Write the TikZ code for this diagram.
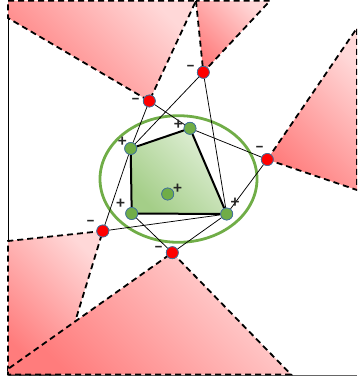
\documentclass[tikz,border=0pt]{standalone}
\usepackage{fontspec}
\setmainfont{Carlito}
\definecolor{redlight}{HTML}{FFD8D8}
\definecolor{reddark}{HTML}{FF7C7C}
\definecolor{grnlight}{HTML}{E2F0D9}
\definecolor{grndark}{HTML}{A4CE88}
\definecolor{grnline}{HTML}{70AD47}
\definecolor{ptedge}{HTML}{41719C}
\begin{document}
\begin{tikzpicture}[x=1pt,y=-1pt,
  region/.style={draw=black, line width=1.8pt, dash pattern=on 6pt off 4pt,
    top color=redlight, bottom color=reddark, shading angle=-45},
  thinline/.style={draw=black, line width=0.75pt},
  hulledge/.style={draw=black, line width=2pt, line join=round},
  redpt/.style={circle, inner sep=0pt, minimum size=12pt, fill=red, draw=ptedge, line width=0.7pt},
  grnpt/.style={circle, inner sep=0pt, minimum size=12pt, fill=grnline, draw=ptedge, line width=0.7pt},
  lbl/.style={inner sep=0pt, text=black!85, font=\fontsize{17}{17}\selectfont\bfseries}]
\useasboundingbox (0,0) rectangle (357,381);
\clip (0,0) rectangle (357,381);
% point positions
\coordinate (pr1) at (149.3,101);
\coordinate (pr2) at (203.3,72.3);
\coordinate (pr3) at (267.3,159.5);
\coordinate (pr4) at (102.8,231);
\coordinate (pr5) at (172.3,252.7);
\coordinate (pg1) at (130.7,148.5);
\coordinate (pg2) at (190,128.3);
\coordinate (pg3) at (226.7,214);
\coordinate (pg4) at (131.7,213.5);
\coordinate (pg5) at (167.7,194);
% frame
\draw[black, line width=0.9pt] (8,0) -- (8,375);
\draw[gray!80!black, line width=1pt] (8,375) -- (357,375);
% red cones
\path[region] (8,0.8) -- (196,0.8) -- (pr1) -- (8,18) -- cycle;
\path[region] (196,0.8) -- (pr2) -- (270,0.8) -- cycle;
\path[region] (pr3) -- (357,28) -- (357,190) -- cycle;
\path[region] (pr4) -- (8,241) -- (8,374.5) -- (59,374.5) -- cycle;
\path[region] (pr5) -- (291,374.5) -- (8,374.5) -- (8,369) -- cycle;
% ellipse
\draw[grnline, line width=2.8pt] (178.5,179) ellipse [x radius=78.5, y radius=63.3];
% hull fill
\path[top color=grnlight, bottom color=grndark, shading angle=-45]
  (pg1) -- (pg2) -- (pg3) -- (pg4) -- cycle;
% nodes
\node[redpt] (r1) at (pr1) {};
\node[redpt] (r2) at (pr2) {};
\node[redpt] (r3) at (pr3) {};
\node[redpt] (r4) at (pr4) {};
\node[redpt] (r5) at (pr5) {};
\node[grnpt] (g1) at (pg1) {};
\node[grnpt] (g2) at (pg2) {};
\node[grnpt] (g3) at (pg3) {};
\node[grnpt] (g4) at (pg4) {};
\node[grnpt] (g5) at (pg5) {};
% tangent lines
\draw[thinline] (r1) -- (g1);
\draw[thinline] (r1) -- (g2);
\draw[thinline] (r2) -- (g1);
\draw[thinline] (r2) -- (g3);
\draw[thinline] (r3) -- (g2);
\draw[thinline] (r3) -- (g3);
\draw[thinline] (r4) -- (g1);
\draw[thinline] (r4) -- (g3);
\draw[thinline] (r5) -- (g4);
\draw[thinline] (r5) -- (g3);
% hull edges
\draw[hulledge] (g1) -- (g2);
\draw[hulledge] (g2) -- (g3);
\draw[hulledge] (g3) -- (g4);
\draw[hulledge] (g4) -- (g1);
% redraw points on top
\foreach \n in {r1,r2,r3,r4,r5}{\node[redpt] at (p\n) {};}
\foreach \n in {g1,g2,g3,g4,g5}{\node[grnpt] at (p\n) {};}
% labels
\node[lbl] (m1) at (135.5,101.5) {−};
\node[lbl] (m2) at (190.7,68) {−};
\node[lbl] (m3) at (259.5,149.5) {−};
\node[lbl] (m4) at (90.7,223) {−};
\node[lbl] (m5) at (158.5,249.5) {−};
\node[lbl] (p1) at (122.3,141.5) {+};
\node[lbl] (p2) at (178.3,124.5) {+};
\node[lbl] (p3) at (235,203) {+};
\node[lbl] (p4) at (120.7,204) {+};
\node[lbl] (p5) at (177.7,188.5) {+};
\end{tikzpicture}
\end{document}
